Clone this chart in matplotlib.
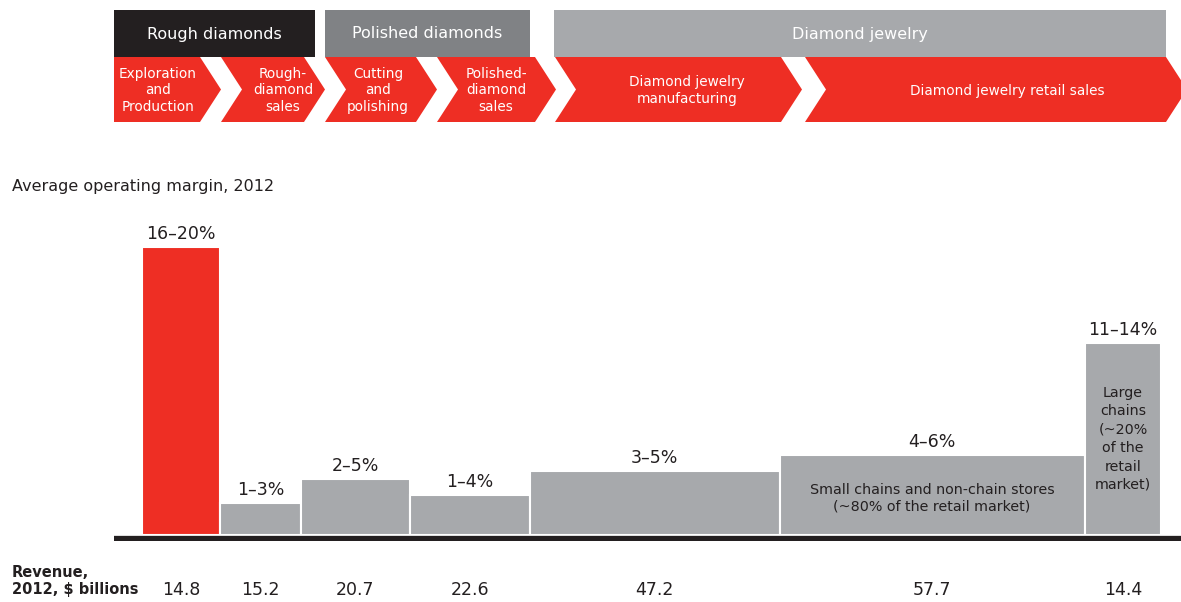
import numpy as np
import matplotlib
matplotlib.use("Agg")
import matplotlib.pyplot as plt
from matplotlib.patches import Polygon, Rectangle

# data
stages = ["Exploration\nand\nProduction", "Rough-\ndiamond\nsales", "Cutting\nand\npolishing",
          "Polished-\ndiamond\nsales", "Diamond jewelry\nmanufacturing", "Diamond jewelry retail sales"]
groups = ["Rough diamonds", "Polished diamonds", "Diamond jewelry"]
revenue = [14.8, 15.2, 20.7, 22.6, 47.2, 57.7, 14.4]
margin = [18, 2, 3.5, 2.5, 4, 5, 12]
margin_labels = ["16–20%", "1–3%", "2–5%", "1–4%", "3–5%", "4–6%", "11–14%"]
bar_notes = ["", "", "", "", "",
             "Small chains and non-chain stores\n(~80% of the retail market)",
             "Large\nchains\n(~20%\nof the\nretail\nmarket)"]

RED = "#ee2e24"
GREY = "#a7a9ac"
DARK = "#231f20"
MID = "#808285"

W, H = 1181, 602
fig = plt.figure(figsize=(W / 100, H / 100), dpi=100)

# header in pixel coordinates
hdr = fig.add_axes([0, 0, 1, 1])
hdr.set_xlim(0, W)
hdr.set_ylim(H, 0)
hdr.axis("off")

group_boxes = [(114, 315, DARK), (325, 530, MID), (554, 1166, GREY)]
for (x0, x1, c), name in zip(group_boxes, groups):
    hdr.add_patch(Rectangle((x0, 10), x1 - x0, 47, color=c, lw=0))
    hdr.text((x0 + x1) / 2, 34, name, color="white", fontsize=11.5, ha="center", va="center")

top, bot = 57, 122
mid = (top + bot) / 2
d = 21
chevrons = [(114, 200), (221, 304), (325, 416), (437, 535), (555, 781), (805, 1166)]
label_x = [158, 283, 378, 496, 687, 1007]
for i, ((xl, xr), label, cx) in enumerate(zip(chevrons, stages, label_x)):
    notch = 0 if i == 0 else d
    pts = [(xl, top), (xr, top), (xr + d, mid), (xr, bot), (xl, bot), (xl + notch, mid)]
    hdr.add_patch(Polygon(pts, closed=True, color=RED, lw=0))
    hdr.text(cx, mid + 1, label, color="white", fontsize=9.8, ha="center", va="center",
             linespacing=1.2)

# bar chart
ax = fig.add_axes([114 / W, (H - 541) / H, (W - 114) / W, 341 / H])
total = sum(revenue)
scale = (1161 - 142) / total
ax.set_xlim(-(142 - 114) / scale, total + (W - 1161) / scale)
ax.set_ylim(-6 / 16, 335 / 16)
ax.axis("off")

lefts = np.concatenate([[0], np.cumsum(revenue)[:-1]])
colors = [RED] + [GREY] * (len(revenue) - 1)
ax.bar(lefts, margin, width=revenue, align="edge", color=colors, edgecolor="white", linewidth=1.5)
ax.axhline(-2.5 / 16, color=DARK, lw=3.8)

for x, w, m, lab, note in zip(lefts, revenue, margin, margin_labels, bar_notes):
    ax.annotate(lab, (x + w / 2, m), xytext=(0, 3), textcoords="offset points",
                ha="center", va="bottom", fontsize=12.5, color=DARK)
    if note:
        tall = note.count("\n") > 2
        ax.text(x + w / 2, m / 2 - (0.0 if tall else 0.2), note, ha="center", va="center",
                fontsize=10.3, color=DARK, linespacing=1.4 if tall else 1.2)
    ax.text(x + w / 2, -55 / 16, f"{w:.1f}", ha="center", va="center", fontsize=12.5,
            color=DARK, clip_on=False)

fig.text(12 / W, 1 - 187 / H, "Average operating margin, 2012", fontsize=11.5,
         color=DARK, va="center")
fig.text(12 / W, 1 - 581 / H, "Revenue,\n2012, $ billions", fontsize=10.5,
         fontweight="bold", color=DARK, va="center", linespacing=1.15)

fig.savefig("out.png", dpi=100)
